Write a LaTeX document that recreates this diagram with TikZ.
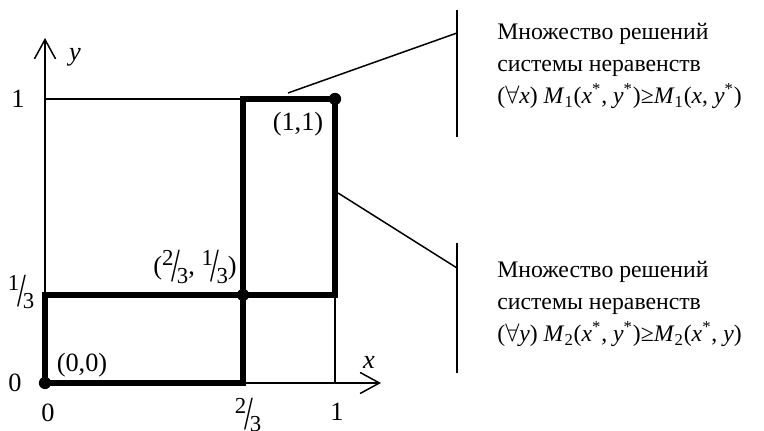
\documentclass[tikz,border=0pt]{standalone}
\usepackage{fontspec}
\setmainfont{Liberation Serif}
\usetikzlibrary{arrows.meta}
\newcommand{\slfrac}[2]{\raisebox{.75ex}{\fontsize{13}{13}\selectfont#1}\kern-.08em\raisebox{-.55ex}{\scalebox{1.2}[1.8]{/}}\kern-.12em\raisebox{-.75ex}{\fontsize{13}{13}\selectfont#2}}
\tikzset{
  thinline/.style={line width=0.85pt},
  thickline/.style={line width=3.4pt, line cap=rect},
  axisline/.style={line width=0.85pt, -{Straight Barb[length=11pt,width=12pt,line width=0.85pt]}},
  dot/.style={circle, fill, inner sep=0pt, minimum size=7pt},
  lbl/.style={inner sep=0pt, font=\fontsize{15}{18.5}\selectfont},
  textblock/.style={inner sep=0pt, anchor=west, align=left, font=\fontsize{13.5}{18.2}\selectfont}
}

\begin{document}
\begin{tikzpicture}[x=0.02cm, y=0.02cm]
        \useasboundingbox (0,0) rectangle (764,431);

            \coordinate (o) at (45,48);
            \coordinate (a) at (243,48);
            \coordinate (b) at (335,48);
            \coordinate (xend) at (381,48);
            \coordinate (yend) at (45,393);
            \coordinate (c) at (45,136);
            \coordinate (d) at (45,332);
            \coordinate (p) at (243,136);
            \coordinate (q) at (335,136);
            \coordinate (t) at (243,332);
            \coordinate (r) at (335,332);

            \draw[axisline] (o) -- (xend);
            \draw[axisline] (o) -- (yend);
            \draw[thinline] (d) -- (t);
            \draw[thinline] (q) -- (b);

            \draw[thickline] (o) -- (a) -- (t) -- (r) -- (q) -- (p) -- (c) -- cycle;

            \node[dot] (n00) at (o) {};
            \node[dot] (n23) at (p) {};
            \node[dot] (n11) at (r) {};

            \node[lbl] at (75,374) {\textit{y}};
            \node[lbl] at (369,69) {\textit{x}};
            \node[lbl] at (18,332) {1};
            \node[lbl] at (21,139) {\slfrac{1}{3}};
            \node[lbl] at (15,48) {0};
            \node[lbl] at (48,18) {0};
            \node[lbl] at (248,16) {\slfrac{2}{3}};
            \node[lbl] at (337,19) {1};
            \node[lbl] at (82,66) {(0,0)};
            \node[lbl] at (195,164) {(\slfrac{2}{3}, \slfrac{1}{3})};
            \node[lbl] at (298,307) {(1,1)};

            \coordinate (m1) at (288,338);
            \coordinate (k1) at (457,398);
            \draw[thinline] (457,421) -- (457,294);
            \draw[thinline] (m1) -- (k1);
            \coordinate (m2) at (338,238);
            \coordinate (k2) at (457,163);
            \draw[thinline] (457,188) -- (457,58);
            \draw[thinline] (m2) -- (k2);

            \node[textblock] (set1) at (497,365) {Множество решений\\системы неравенств\\($\forall$\textit{x}) \textit{M}\textsubscript{1}(\textit{x}\textsuperscript{*}, \textit{y}\textsuperscript{*})≥\textit{M}\textsubscript{1}(\textit{x}, \textit{y}\textsuperscript{*})};
            \node[textblock] (set2) at (497,127) {Множество решений\\системы неравенств\\($\forall$\textit{y}) \textit{M}\textsubscript{2}(\textit{x}\textsuperscript{*}, \textit{y}\textsuperscript{*})≥\textit{M}\textsubscript{2}(\textit{x}\textsuperscript{*}, \textit{y})};
        \end{tikzpicture}
\end{document}
